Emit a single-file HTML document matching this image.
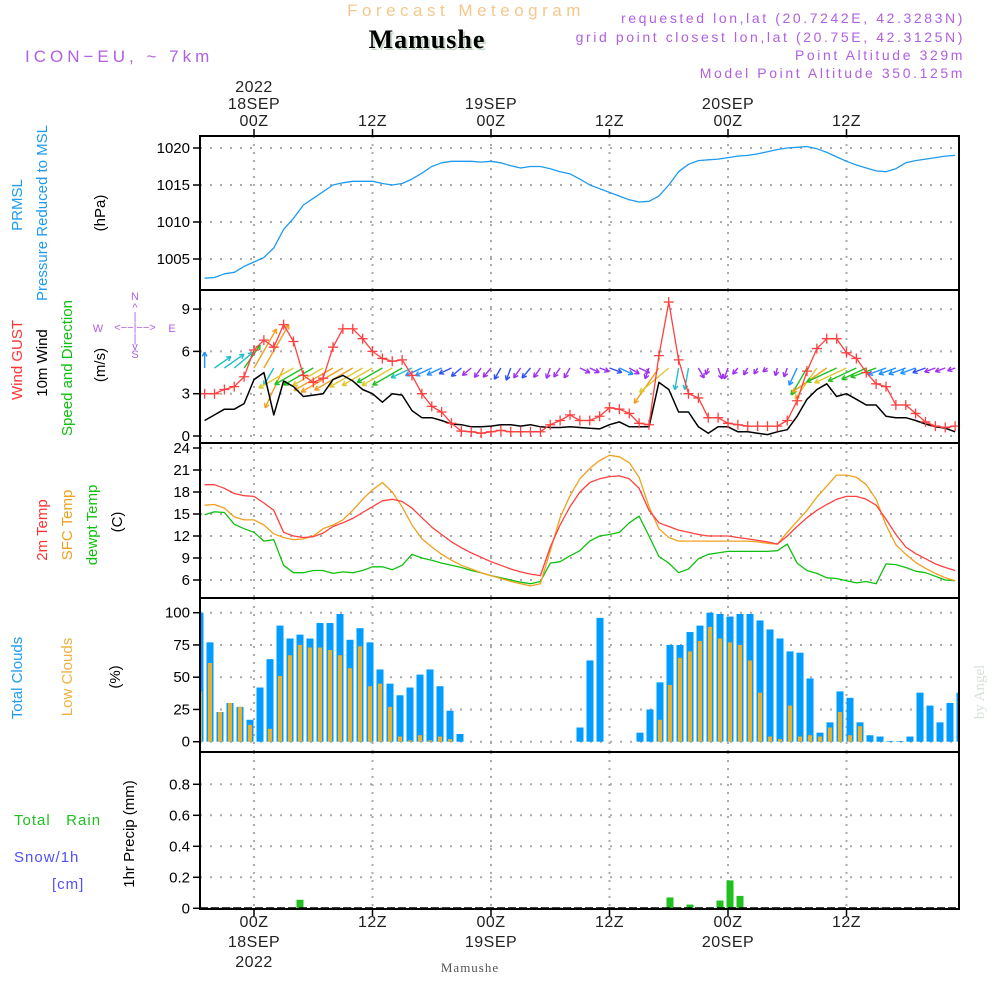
<!DOCTYPE html>
<html><head><meta charset="utf-8"><style>
html,body{margin:0;padding:0;background:#fff;width:1000px;height:1000px;overflow:hidden}
svg{display:block;font-family:"Liberation Sans",sans-serif}
</style></head><body>
<svg id="c" width="1000" height="1000" viewBox="0 0 1000 1000" xmlns="http://www.w3.org/2000/svg">
<defs><clipPath id="pclip"><rect x="200" y="130" width="759" height="790"/></clipPath></defs>
<text x="466" y="16" font-size="17" fill="#f2c88c" text-anchor="middle" letter-spacing="4.5">Forecast Meteogram</text>
<text x="429" y="50" font-size="26" font-weight="bold" font-family="Liberation Serif,serif" fill="#c8d8c8" text-anchor="middle" letter-spacing="1">Mamushe</text>
<text x="427" y="48" font-size="26" font-weight="bold" font-family="Liberation Serif,serif" fill="#000" text-anchor="middle" letter-spacing="1">Mamushe</text>
<text x="25" y="62" font-size="17" fill="#b060e0" letter-spacing="4">ICON−EU, ~ 7km</text>
<g font-size="14" fill="#b060e0" text-anchor="end" letter-spacing="2.6">
<text x="965" y="23">requested lon,lat (20.7242E, 42.3283N)</text>
<text x="965" y="42">grid point closest lon,lat (20.75E, 42.3125N)</text>
<text x="965" y="60">Point Altitude 329m</text>
<text x="965" y="78">Model Point Altitude 350.125m</text>
</g>
<g font-size="15">
<text transform="translate(22,205) rotate(-90)" fill="#1e9bf0" text-anchor="middle">PRMSL</text>
<text transform="translate(47,213) rotate(-90)" fill="#1e9bf0" text-anchor="middle">Pressure Reduced to MSL</text>
<text transform="translate(105,213) rotate(-90)" fill="#000" text-anchor="middle">(hPa)</text>
</g>
<g font-size="15">
<text transform="translate(22,360) rotate(-90)" fill="#ff3333" text-anchor="middle">Wind GUST</text>
<text transform="translate(47,363) rotate(-90)" fill="#000" text-anchor="middle">10m Wind</text>
<text transform="translate(72,368) rotate(-90)" fill="#10c010" text-anchor="middle">Speed and Direction</text>
<text transform="translate(105,365) rotate(-90)" fill="#000" text-anchor="middle">(m/s)</text>
</g>
<g font-size="11" fill="#b060e0" text-anchor="middle">
<text x="135" y="300">N</text><text x="135" y="311">^</text><text x="135" y="320">|</text>
<text x="98" y="332">W</text><text x="135" y="331">&lt;−−|−−&gt;</text><text x="172" y="332">E</text>
<text x="135" y="342">|</text><text x="135" y="350">v</text><text x="135" y="358">S</text>
</g>
<g font-size="15">
<text transform="translate(47,530) rotate(-90)" fill="#ff3333" text-anchor="middle">2m Temp</text>
<text transform="translate(72,525) rotate(-90)" fill="#f0a020" text-anchor="middle">SFC Temp</text>
<text transform="translate(97,525) rotate(-90)" fill="#10c010" text-anchor="middle">dewpt Temp</text>
<text transform="translate(122,522) rotate(-90)" fill="#000" text-anchor="middle">(C)</text>
</g>
<g font-size="15">
<text transform="translate(22,678) rotate(-90)" fill="#1e9bf0" text-anchor="middle">Total Clouds</text>
<text transform="translate(72,677) rotate(-90)" fill="#f0b040" text-anchor="middle">Low Clouds</text>
<text transform="translate(120,677) rotate(-90)" fill="#000" text-anchor="middle">(%)</text>
</g>
<g font-size="15">
<text transform="translate(134,834) rotate(-90)" fill="#000" text-anchor="middle">1hr Precip (mm)</text>
<text x="14" y="825" fill="#20c020" letter-spacing="1">Total&#160;&#160;&#160;Rain</text>
<text x="14" y="862" fill="#5050ff" letter-spacing="1">Snow/1h</text>
<text x="52" y="889" fill="#5050ff" letter-spacing="1">[cm]</text>
</g>
<text transform="translate(984,692) rotate(-90)" font-size="15" font-family="Liberation Serif,serif" fill="#d8e0d8" text-anchor="middle">by Angel</text>
<text x="470" y="972" font-size="13" font-family="Liberation Serif,serif" fill="#555" text-anchor="middle" letter-spacing="1">Mamushe</text>
<g id="plot"></g>
</svg>
<script>
// ---- data ----
const hours = [];
for (let h = -5; h <= 71; h++) hours.push(h);
const tickHours = [0, 12, 24, 36, 48, 60];
const tickTimes = ['00Z', '12Z', '00Z', '12Z', '00Z', '12Z'];
const tickDays = ['18SEP', '', '19SEP', '', '20SEP', ''];
const tickYears = ['2022', '', '', '', '', ''];
const pressure = [1002.4,1002.5,1003,1003.2,1004,1004.6,1005.2,1006.5,1009,1010.5,
1012.3,1013.2,1014.1,1015,1015.3,1015.5,1015.5,1015.5,1015.2,1015,
1015.2,1015.8,1016.6,1017.5,1018,1018.2,1018.2,1018.2,1018.1,1018.2,1018.0,
1017.6,1017.3,1017.5,1017.5,1017.2,1016.8,1016.5,1015.8,1015,1014.5,
1014,1013.5,1013,1012.7,1012.8,1013.5,1015,1016.8,1017.8,1018.3,
1018.4,1018.5,1018.7,1018.9,1019,1019.2,1019.5,1019.8,1020,1020.1,
1020.2,1019.9,1019.4,1018.8,1018.2,1017.7,1017.3,1016.9,1016.8,1017.2,
1018,1018.3,1018.5,1018.7,1018.9,1019];
const gust = [3.0,3.0,3.3,3.5,4.2,6.1,6.8,6.3,7.9,6.7,
4.3,3.8,4.1,6.3,7.6,7.6,6.9,6.0,5.5,5.3,
5.4,4.3,3.0,2.1,1.7,0.9,0.35,0.3,0.2,0.3,
0.4,0.3,0.3,0.3,0.3,0.8,1.1,1.5,1.1,1.1,
1.4,2.0,1.9,1.6,0.9,0.8,5.7,9.5,5.4,3.0,
2.7,1.3,1.3,0.9,0.8,0.7,0.7,0.7,0.7,1.1,
2.5,4.6,6.2,6.9,6.9,5.9,5.5,4.5,3.7,3.5,
2.2,2.2,1.6,1.0,0.7,0.6,0.7];
const wind = [1.1,1.5,1.9,1.9,2.3,4.0,4.5,1.5,3.9,3.5,
2.8,2.9,3.0,4.0,4.3,3.9,3.3,3.0,2.4,3.0,
2.9,1.8,1.3,1.3,1.1,0.85,0.8,0.65,0.65,0.7,
0.8,0.8,0.7,0.8,0.65,0.6,0.6,0.65,0.6,0.55,
0.5,0.8,1.0,0.65,0.65,0.65,3.8,3.3,1.7,1.7,
0.65,0.2,0.65,0.65,0.3,0.3,0.2,0.1,0.3,0.45,
1.4,2.6,3.3,3.7,2.8,3.0,2.6,2.2,2.2,1.4,
1.3,1.3,1.1,0.85,0.65,0.55,0.3];
const windDir = [0,55,55,50,35,30,30,210,205,
240,240,240,240,240,240,240,240,240,240,240,240,
245,245,245,245,245,230,230,
215,220,210,200,215,220,215,200,215,210,
115,115,110,110,115,120,115,
200,215,230,190,190,150,200,160,200,220,210,210,230,
195,200,205,210,215,235,
245,245,245,245,
250,250,250,250,250,250,250,250,250];
const temp2m = [19.0,19.0,18.5,17.8,17.5,17.4,16.5,15.5,12.5,12.0,
11.8,11.9,12.4,13.3,13.8,14.4,15.2,16.0,16.8,17.0,
16.7,15.8,14.5,13.2,12.2,11.2,10.4,9.7,9.1,8.5,
8.0,7.5,7.1,6.8,6.6,10.5,13.5,16.0,18.0,19.3,
19.8,20.1,20.2,19.8,18.5,15.5,13.8,13.3,12.8,12.5,
12.2,12.0,12.0,12.0,11.8,11.6,11.4,11.2,10.9,12.0,13.3,
14.5,15.5,16.3,17.0,17.4,17.4,17.0,16.2,14.3,12.2,
10.5,9.6,8.9,8.2,7.7,7.3];
const tempSfc = [16.2,16.3,15.8,14.6,14.2,14.2,13.5,12.3,11.8,11.5,
11.6,12.0,13.0,13.5,14.2,15.5,17.0,18.3,19.3,18.0,
16.0,13.5,11.6,10.5,9.5,8.7,8.0,7.5,7.0,6.6,
6.2,5.8,5.5,5.2,5.5,10.0,14.5,17.5,19.8,21.2,
22.3,23.0,22.8,22.0,20.0,16.0,13.0,11.8,11.3,11.3,
11.3,11.3,11.3,11.3,11.3,11.3,11.2,11.0,10.9,12.5,14.0,
15.5,17.3,18.8,20.3,20.3,20.0,19.0,17.0,13.5,10.8,
9.5,8.4,7.6,6.9,6.3,5.9];
const dewpt = [14.9,15.3,15.2,13.6,13.0,12.5,11.3,11.5,8.0,7.0,
7.0,7.3,7.3,6.9,7.1,7.0,7.3,7.8,7.8,7.4,
8.0,9.5,9.0,8.7,8.3,8.0,7.7,7.3,7.0,6.6,
6.3,6.0,5.7,5.5,5.8,8.3,8.5,9.3,10.0,11.3,
12.0,12.2,12.5,13.8,14.7,12.0,9.2,8.3,7.0,7.5,
8.9,9.5,9.7,9.9,9.9,9.9,9.9,9.9,10.0,10.9,8.3,
7.3,6.9,6.3,6.2,5.9,5.6,5.8,5.5,8.2,8.1,
7.7,7.2,7.0,6.5,6.0,5.9];
const totalClouds = [100,77,23,30,27,17,42,64,90,80,
83,80,92,92,99,79,88,77,56,45,
36,42,52,56,43,24,6,0,0,0,
0,0,0,0,0,0,0,0,11,63,
96,0,0,0,7,25,46,75,75,85,
90,100,99,97,99,99,94,87,80,70,
69,49,7,15,39,34,15,5,4,0.5,
0.5,4,38,28,15,30,38];
const lowClouds = [39,61,23,30,27,13,0,10,51,67,
75,73,73,71,67,57,74,43,45,27,
4,1,5,1,4,2,0,0,0,0,
0,0,0,0,0,0,0,0,0,0,
0,0,0,0,0,0,17,44,65,70,
78,89,80,77,75,63,38,4,2,28,
4,5,4,11,23,5,12,0,0,0,
0,0,0,0,0,0,0];
const precip = [0,0,0,0,0,0,0,0,0,0,
0.055,0,0,0,0,0,0,0,0,0,
0,0,0,0,0,0,0,0,0,0,
0,0,0,0,0,0,0,0,0,0,
0,0,0,0,0,0,0,0.07,0,0.024,
0,0,0.05,0.18,0.08,0,0,0,0,0,
0,0,0,0,0,0,0,0,0,0,
0,0,0,0,0,0,0];
const pTicks = [1005, 1010, 1015, 1020];
const wTicks = [0, 3, 6, 9];
const tTicks = [6, 9, 12, 15, 18, 21, 24];
const cTicks = [0, 25, 50, 75, 100];
const rTicks = [0, 0.2, 0.4, 0.6, 0.8];

// ---- axes ----
const X0 = 200, X1 = 959;
const xT = h => 254 + 9.875 * h;
const xB = h => 250 + 10 * h;
const yP = p => 148 + (1020 - p) * 7.4;
const yW = v => 436 - 14.1 * v;
const yT = t => 580 - (t - 6) * 7.333;
const yC = c => 741.7 - 1.29 * c;
const yR = r => 908.3 - 155 * r;
const panels = [[136, 290], [290, 443], [443, 598], [598, 752], [752, 909]];

const NS = 'http://www.w3.org/2000/svg';
const plot = document.getElementById('plot');
function mk(tag, attrs, parent) {
  const e = document.createElementNS(NS, tag);
  for (const k in attrs) e.setAttribute(k, attrs[k]);
  (parent || plot).appendChild(e);
  return e;
}
function grp(name) {
  const g = mk('g', {});
  
  
  return g;
}

const gridG = grp('gridlines');
panels.forEach(([a, b]) => {
  tickHours.forEach(h => mk('line', {x1: xT(h), x2: xT(h), y1: a, y2: b, stroke: '#aaa', 'stroke-width': 2, 'stroke-dasharray': '2,6'}, gridG));
});
function hgrid(ticks, f, name) {
  const g = grp(name);
  ticks.forEach(t => {
    mk('line', {x1: X0, x2: X1, y1: f(t), y2: f(t), stroke: '#aaa', 'stroke-width': 2, 'stroke-dasharray': '2,8'}, g);
    mk('line', {x1: X0 - 7, x2: X0, y1: f(t), y2: f(t), stroke: '#000', 'stroke-width': 1.5}, g);
    const tx = mk('text', {x: X0 - 10, y: f(t) + 5, 'font-size': 15, fill: '#000', 'text-anchor': 'end'}, g);
    tx.textContent = String(t);
  });
}
hgrid(pTicks, yP, 'pressure-y-axis');
hgrid(wTicks, yW, 'wind-y-axis');
hgrid(tTicks, yT, 'temp-y-axis');
hgrid(cTicks, yC, 'cloud-y-axis');
hgrid(rTicks, yR, 'precip-y-axis');

const cg = grp('cloud-bars');
cg.setAttribute('clip-path', 'url(#pclip)');
hours.forEach((h, i) => {
  if (totalClouds[i] > 0) {
    const b = mk('rect', {x: xB(h) - 3.5, y: yC(totalClouds[i]), width: 7, height: yC(0) - yC(totalClouds[i]), fill: '#009cff'}, cg);
    
    
  }
  if (lowClouds[i] > 0) {
    const b = mk('rect', {x: xB(h) - 2, y: yC(lowClouds[i]), width: 4, height: yC(0) - yC(lowClouds[i]), fill: '#e8b030'}, cg);
    
    
  }
});
const pg = grp('precip-bars');
pg.setAttribute('clip-path', 'url(#pclip)');
hours.forEach((h, i) => {
  if (precip[i] > 0) {
    const b = mk('rect', {x: xB(h) - 3.5, y: yR(precip[i]), width: 7, height: yR(0) - yR(precip[i]), fill: '#20c020'}, pg);
    
    
  }
});
mk('line', {x1: X0, x2: X1, y1: yR(0), y2: yR(0), stroke: '#000', 'stroke-width': 2, 'stroke-dasharray': '8,3'}, pg);

function line(vals, f, color, w, name) {
  const pts = vals.map((v, i) => xT(hours[i]).toFixed(1) + ',' + f(v).toFixed(1)).join(' ');
  const p = mk('polyline', {points: pts, fill: 'none', stroke: color, 'stroke-width': w, 'stroke-linejoin': 'round'});
  
  
  return p;
}
line(pressure, yP, '#1e9bf0', 1.3, 'pressure-line');

function arrowColor(s) {
  if (s < 0.75) return '#a030f0';
  if (s < 1.0) return '#3050f0';
  if (s < 1.5) return '#1e90ff';
  if (s < 2.2) return '#20c0c8';
  if (s < 3.0) return '#20c020';
  if (s < 3.7) return '#e0c830';
  return '#f0a020';
}
const ag = grp('wind-direction-arrows');
hours.forEach((h, i) => {
  const s = wind[i], len = 5 + 10 * s, a = windDir[i] * Math.PI / 180;
  const x0 = xT(h), y0 = 368;
  const x1 = x0 + len * Math.sin(a), y1 = y0 - len * Math.cos(a);
  const c = arrowColor(s);
  const g = mk('g', {stroke: c, 'stroke-width': 1.4, fill: 'none'}, ag);
  
  
  mk('line', {x1: x0, y1: y0, x2: x1, y2: y1}, g);
  const hl = 5;
  [a + Math.PI - 0.5, a + Math.PI + 0.5].forEach(b => {
    mk('line', {x1: x1, y1: y1, x2: x1 + hl * Math.sin(b), y2: y1 - hl * Math.cos(b)}, g);
  });
});
line(wind, yW, '#000', 1.5, 'wind-speed-line');
line(gust, yW, '#ff4040', 1.3, 'wind-gust-line');
const mg = grp('gust-markers');
gust.forEach((v, i) => {
  const x = xT(hours[i]), y = yW(v);
  const m = mk('path', {d: `M${x - 5},${y}H${x + 5}M${x},${y - 5}V${y + 5}`, stroke: '#ff4040', 'stroke-width': 1.3}, mg);
  
  
});

line(dewpt, yT, '#10c010', 1.3, 'dewpoint-line');
line(tempSfc, yT, '#f0a020', 1.3, 'surface-temp-line');
line(temp2m, yT, '#ff4040', 1.3, '2m-temp-line');

const fg = grp('panel-frames');
mk('rect', {x: X0, y: 136, width: X1 - X0, height: 909 - 136, fill: 'none', stroke: '#000', 'stroke-width': 2}, fg);
[290, 443, 598, 752].forEach(y => mk('line', {x1: X0, x2: X1, y1: y, y2: y, stroke: '#000', 'stroke-width': 2}, fg));

const tg = grp('time-axis-labels');
tickHours.forEach((h, i) => {
  const x = xT(h);
  mk('line', {x1: x, x2: x, y1: 129, y2: 136, stroke: '#000', 'stroke-width': 1.5}, tg);
  mk('line', {x1: x, x2: x, y1: 909, y2: 916, stroke: '#000', 'stroke-width': 1.5}, tg);
  const top = [tickYears[i], tickDays[i], tickTimes[i]];
  top.forEach((s, k) => {
    if (!s) return;
    const t = mk('text', {x: x, y: 92 + 17 * k, 'font-size': 16, fill: '#222', 'text-anchor': 'middle', 'letter-spacing': 0.5}, tg);
    t.textContent = s;
  });
  const bot = [tickTimes[i], tickDays[i], tickYears[i]];
  bot.forEach((s, k) => {
    if (!s) return;
    const t = mk('text', {x: x, y: 927 + 20 * k, 'font-size': 16, fill: '#222', 'text-anchor': 'middle', 'letter-spacing': 0.5}, tg);
    t.textContent = s;
  });
});
</script>
</body></html>
